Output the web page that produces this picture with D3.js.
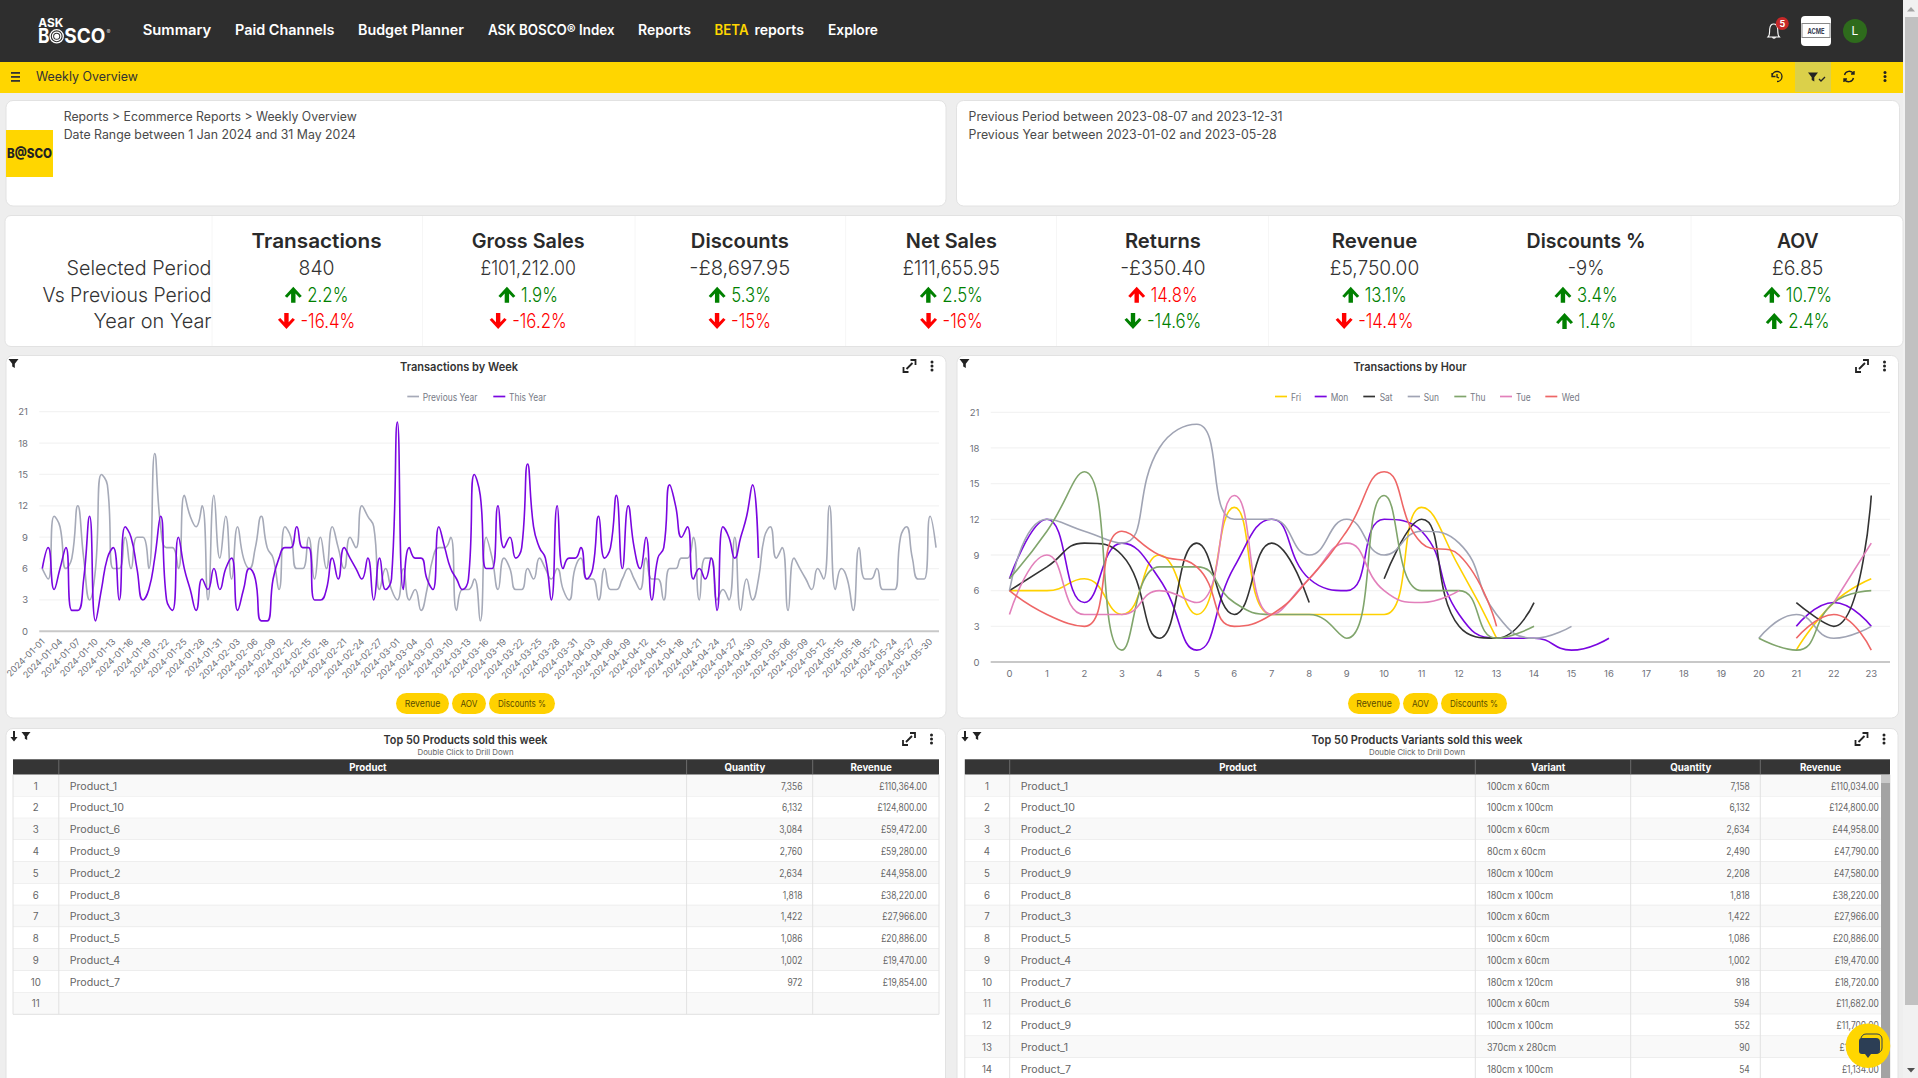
<!DOCTYPE html>
<html><head><meta charset="utf-8">
<script src="https://cdn.jsdelivr.net/npm/d3@7/dist/d3.min.js"></script>
<style>
html,body{margin:0;padding:0;background:#eee;overflow:hidden}
svg{display:block;font-family:Inter,"Open Sans",sans-serif}
</style></head><body><svg id="c" width="1918" height="1078"></svg>
<script>
// ---------- data ----------
const navItems = ["Summary","Paid Channels","Budget Planner","ASK BOSCO® Index","Reports","reports","Explore"];
const kpiNames = ["Transactions","Gross Sales","Discounts","Net Sales","Returns","Revenue","Discounts %","AOV"];
const kpiSelected = ["840","£101,212.00","-£8,697.95","£111,655.95","-£350.40","£5,750.00","-9%","£6.85"];
const kpiVsPrev = [2.2,1.9,5.3,2.5,14.8,13.1,3.4,10.7];
const kpiVsPrevGood = [1,1,1,1,0,1,1,1];
const kpiYoY = [-16.4,-16.2,-15,-16,-14.6,-14.4,1.4,2.4];
const kpiYoYGood = [0,0,0,0,1,0,1,1];
const rowLabels = ["Selected Period","Vs Previous Period","Year on Year"];

const weekTicks = ["2024-01-01","2024-01-04","2024-01-07","2024-01-10","2024-01-13","2024-01-16","2024-01-19","2024-01-22","2024-01-25","2024-01-28","2024-01-31","2024-02-03","2024-02-06","2024-02-09","2024-02-12","2024-02-15","2024-02-18","2024-02-21","2024-02-24","2024-02-27","2024-03-01","2024-03-04","2024-03-07","2024-03-10","2024-03-13","2024-03-16","2024-03-19","2024-03-22","2024-03-25","2024-03-28","2024-03-31","2024-04-03","2024-04-06","2024-04-09","2024-04-12","2024-04-15","2024-04-18","2024-04-21","2024-04-24","2024-04-27","2024-04-30","2024-05-03","2024-05-06","2024-05-09","2024-05-12","2024-05-15","2024-05-18","2024-05-21","2024-05-24","2024-05-27","2024-05-30"];
const thisYear = [6,8,4,6,8,2,2,5,11,1,4,7,8,3,10,9,6,3,4,7,11,3,2,9,6,4,2,5,4,6,4,6,7,2,4,6,5,1,1,5,7,8,8,10,8,8,3,3,4,7,5,8,7,6,5,7,3,7,4,5,20,4,8,7,7,5,4,10,8,6,5,4,5,15,13,6,6,12,8,9,7,8,16,10,8,7,3,12,6,7,7,8,5,6,11,7,8,13,6,12,8,6,9,3,7,8,14,12,9,10,5,6,5,7,2,10,9,7,9,11,14,7];
const previousYear = [6,5,11,10,6,7,12,7,3,6,15,14,6,6,9,6,9,9,6,17,10,8,8,6,13,11,10,12,3,13,7,11,5,10,7,6,8,11,8,7,4,10,9,6,6,9,5,9,6,10,8,6,9,8,12,11,10,4,6,4,3,6,3,4,2,4,7,8,8,9,2,4,4,5,1,9,7,4,7,6,4,4,6,5,7,6,5,6,4,3,6,7,5,5,3,6,4,4,5,6,5,4,7,5,5,3,6,6,7,7,9,3,7,7,3,4,3,9,2,5,3,5,9,10,7,8,2,7,6,5,4,6,5,12,4,6,5,2,8,5,5,6,4,4,4,9,10,7,5,5,11,8];

const hours = ["0","1","2","3","4","5","6","7","8","9","10","11","12","13","14","15","16","17","18","19","20","21","22","23"];
const _ = null;
const fri = [6,6,7,4,9,4,13,4,4,4,4,13,8,2,_,_,_,_,_,_,_,1,5,7];
const mon = [7,12,5,10,7,1,8,12,7,6,12,11,4,2,2,1,2,_,_,_,_,3,5,3];
const sat = [6,8,10,9,2,10,4,10,5,_,7,12,3,2,5,_,_,_,_,_,_,5,3,14];
const sun = [6,12,11,10,18,20,12,12,9,12,9,11,10,4,2,3,_,_,_,_,2,4,2,3];
const thu = [7,11,16,1,8,8,5,4,4,2,14,6,6,2,3,_,_,_,_,_,2,1,5,6];
const tue = [4,9,4,4,6,5,14,4,7,10,6,5,6,_,_,_,_,_,_,_,_,_,5,10];
const wed = [6,4,3,11,9,8,3,4,7,11,16,10,9,3,_,_,_,_,_,_,_,2,4,1];
const buttons = ["Revenue","AOV","Discounts %"];

const prodHead = ["","Product","Quantity","Revenue"];
const products = ["Product_1","Product_10","Product_6","Product_9","Product_2","Product_8","Product_3","Product_5","Product_4","Product_7",""];
const quantities = ["7,356","6,132","3,084","2,760","2,634","1,818","1,422","1,086","1,002","972",""];
const revenues = ["£110,364.00","£124,800.00","£59,472.00","£59,280.00","£44,958.00","£38,220.00","£27,966.00","£20,886.00","£19,470.00","£19,854.00",""];

const varHead = ["","Product","Variant","Quantity","Revenue"];
const varProducts = ["Product_1","Product_10","Product_2","Product_6","Product_9","Product_8","Product_3","Product_5","Product_4","Product_7","Product_6","Product_9","Product_1","Product_7"];
const varVariants = ["100cm x 60cm","100cm x 100cm","100cm x 60cm","80cm x 60cm","180cm x 100cm","180cm x 100cm","100cm x 60cm","100cm x 60cm","100cm x 60cm","180cm x 120cm","100cm x 60cm","100cm x 100cm","370cm x 280cm","180cm x 100cm"];
const varQty = ["7,158","6,132","2,634","2,490","2,208","1,818","1,422","1,086","1,002","918","594","552","90","54"];
const varRev = ["£110,034.00","£124,800.00","£44,958.00","£47,790.00","£47,580.00","£38,220.00","£27,966.00","£20,886.00","£19,470.00","£18,720.00","£11,682.00","£11,700.00","£1,800.00","£1,134.00"];

// ---------- helpers ----------
const svg = d3.select("#c");
const YEL = "#ffd600", DARK = "#2e2e2e";
function T(g,x,y,s,o={}){
  const t=g.append("text").attr("x",x).attr("y",y).attr("dy",".35em").text(s)
    .attr("font-size",o.size||12).attr("fill",o.fill||"#333").attr("font-weight",o.weight||400)
    .attr("text-anchor",o.anchor||"start");
  let w=o.w;
  if(!w&&o.k&&s!==""){w=t.node().getComputedTextLength()*o.k;}
  if(w){t.attr("textLength",w).attr("lengthAdjust","spacingAndGlyphs");}
  return t;
}
function card(x,y,w,h){svg.append("rect").attr("x",x).attr("y",y).attr("width",w).attr("height",h).attr("rx",7).attr("fill","#fff").attr("stroke","#e2e2e2").attr("stroke-width",1);}
function funnel(x,y,s=1,c="#222"){svg.append("path").attr("transform",`translate(${x},${y}) scale(${s})`).attr("d","M-5,-4H5L1.3,0.8V5L-1.3,3.6V0.8Z").attr("fill",c);}
function dots(x,y,c="#222"){[-4,0,4].forEach(d=>svg.append("circle").attr("cx",x).attr("cy",y+d).attr("r",1.5).attr("fill",c));}
function expand(x,y){svg.append("path").attr("transform",`translate(${x},${y})`).attr("d","M-1.5,1.5L3,-3M1,-6H6V-1M-3,3L1.5,-1.5M-6,1V6H-1").attr("fill","none").attr("stroke","#222").attr("stroke-width",1.8);}
function downArrow(x,y){svg.append("path").attr("transform",`translate(${x},${y})`).attr("d","M-1,-5H1V1H3.6L0,5.5L-3.6,1H-1Z").attr("fill","#222");}
function kpiArrow(g,x,y,up,c){g.append("path").attr("transform",`translate(${x},${y}) scale(1,${up?1:-1})`).attr("d","M0,-8L8.5,1.2L6.2,3L2.2,-1.3V8H-2.2V-1.3L-6.2,3L-8.5,1.2Z").attr("fill",c);}

// ECharts-like smooth line generator, usable as a d3 curve
function smoothCurve(ctx){
  let pts=[];const smooth=0.5;
  return{areaStart(){},areaEnd(){},lineStart(){pts=[];},point(x,y){pts.push([x,y]);},
  lineEnd(){
    if(!pts.length)return;
    let [px,py]=pts[0],cx0=px,cy0=py;ctx.moveTo(px,py);
    for(let i=1;i<pts.length;i++){
      const [x,y]=pts[i];let cx1=x,cy1=y,nx0=x,ny0=y;
      if(i<pts.length-1){
        const [nx,ny]=pts[i+1];
        let vx=nx-px,vy=ny-py;
        const lp=Math.hypot(x-px,y-py),ln=Math.hypot(nx-x,ny-y),r=ln/(ln+lp);
        nx0=x+vx*smooth*r;ny0=y+vy*smooth*r;
        nx0=Math.max(Math.min(nx0,Math.max(nx,x)),Math.min(nx,x));
        ny0=Math.max(Math.min(ny0,Math.max(ny,y)),Math.min(ny,y));
        vx=nx0-x;vy=ny0-y;
        cx1=x-vx*lp/ln;cy1=y-vy*lp/ln;
        cx1=Math.max(Math.min(cx1,Math.max(px,x)),Math.min(px,x));
        cy1=Math.max(Math.min(cy1,Math.max(py,y)),Math.min(py,y));
        vx=x-cx1;vy=y-cy1;
        nx0=x+vx*ln/lp;ny0=y+vy*ln/lp;
      }
      ctx.bezierCurveTo(cx0,cy0,cx1,cy1,x,y);
      cx0=nx0;cy0=ny0;px=x;py=y;
    }
  }};
}

// ---------- top bars ----------
svg.append("rect").attr("width",1903).attr("height",62).attr("fill",DARK);
svg.append("rect").attr("y",62).attr("width",1903).attr("height",31).attr("fill",YEL);
const nav=svg.append("g");
// logo
T(nav,38.3,22.8,"ASK",{size:12,weight:700,fill:"#fff",w:25});
T(nav,38,36.3,"B",{size:20,weight:700,fill:"#fff",w:11.5});
[6.6,4.2,1.9].forEach((r,i)=>nav.append("circle").attr("cx",56.7).attr("cy",36.3).attr("r",r).attr("fill",i==2?"#fff":"none").attr("stroke","#fff").attr("stroke-width",1.3));
T(nav,64.3,36.3,"SCO",{size:20,weight:700,fill:"#fff",w:41});
T(nav,106.5,31.5,"®",{size:6,fill:"#ccc"});
const navX=[142.7,235,358,488,638,754.4,828], navW=[68.6,99.5,106,126.5,53,49.5,50];
navItems.forEach((n,i)=>T(nav,navX[i],30.5,n,{size:14,weight:600,fill:"#fff",w:navW[i]}));
T(nav,714.6,30.5,"BETA",{size:14,weight:600,fill:YEL,w:34});
// header icons
nav.append("path").attr("transform","translate(-3,0)").attr("d","M1771,37c2,-2 1.5,-5 1.7,-8c.3,-3 2,-5 4,-5c2,0 3.7,2 4,5c.2,3 -.3,6 1.7,8ZM1775.5,37.5a2,2 0 0 0 3,0").attr("fill","none").attr("stroke","#fff").attr("stroke-width",1.1);
nav.append("circle").attr("cx",1782.3).attr("cy",23.5).attr("r",6.5).attr("fill","#c62828");
T(nav,1782.3,23.5,"5",{size:9,weight:700,fill:"#fff",anchor:"middle"});
nav.append("rect").attr("x",1801).attr("y",16).attr("width",30).attr("height",30).attr("rx",4).attr("fill","#fff");
nav.append("rect").attr("x",1802).attr("y",23.5).attr("width",28).attr("height",14).attr("fill","#fff").attr("stroke","#888").attr("stroke-width",1);
T(nav,1816,31,"ACME",{size:7.5,weight:700,fill:"#3a4256",anchor:"middle",w:17});
nav.append("circle").attr("cx",1855).attr("cy",31).attr("r",12).attr("fill","#2e6b1c");
T(nav,1855,31,"L",{size:12,fill:"#fff",anchor:"middle"});
// yellow bar
[-4,0,4].forEach(d=>svg.append("rect").attr("x",11).attr("y",76+d).attr("width",9).attr("height",1.8).attr("fill","#333"));
T(svg,36,76.5,"Weekly Overview",{size:12.5,fill:"#333",w:102});
svg.append("rect").attr("x",1795).attr("y",62).attr("width",36).attr("height",30).attr("fill","#dbd04a");
svg.append("path").attr("d","M1772,76a5,5 0 1 1 5,5.5M1772,73V76.5H1775.5M1777,74v3l2,1").attr("fill","none").attr("stroke","#222").attr("stroke-width",1.3);
funnel(1813,76.5,1,"#222");
svg.append("path").attr("d","M1819,79l2,2l4,-4").attr("fill","none").attr("stroke","#222").attr("stroke-width",1.3);
svg.append("path").attr("transform","translate(-.5,0)").attr("d","M1845,75a5,5 0 0 1 9,-1.5M1854.5,71v3h-3M1854,78a5,5 0 0 1 -9,1.5M1844.5,82v-3h3").attr("fill","none").attr("stroke","#222").attr("stroke-width",1.4);
dots(1885,76.5);
// page scrollbar
svg.append("rect").attr("x",1903).attr("width",15).attr("height",1078).attr("fill","#f1f1f1");
svg.append("rect").attr("x",1905).attr("y",17).attr("width",13).attr("height",988).attr("fill","#c1c1c1");
svg.append("path").attr("d","M1911,7l4,4.5h-8Z").attr("fill","#a3a3a3");
svg.append("path").attr("d","M1911,1072.5l4,-4.5h-8Z").attr("fill","#505050");

// ---------- info cards ----------
card(6,100.5,940,105.5);card(956.5,100.5,943,105.5);
T(svg,63.7,117,"Reports > Ecommerce Reports > Weekly Overview",{size:12.5,fill:"#4a4a4a",w:293});
T(svg,63.7,135,"Date Range between 1 Jan 2024 and 31 May 2024",{size:12.5,fill:"#4a4a4a",w:292});
svg.append("rect").attr("x",6).attr("y",130).attr("width",47).attr("height",47).attr("fill",YEL);
T(svg,29.5,153.5,"B@SCO",{size:13,weight:800,fill:"#222",anchor:"middle",w:45});
T(svg,968.6,117,"Previous Period between 2023-08-07 and 2023-12-31",{size:12.5,fill:"#4a4a4a",w:314});
T(svg,968.6,135,"Previous Year between 2023-01-02 and 2023-05-28",{size:12.5,fill:"#4a4a4a",w:308});

// ---------- KPI ----------
svg.append("rect").attr("x",5).attr("y",215.5).attr("width",1898).attr("height",131).attr("rx",6).attr("fill","#fff").attr("stroke","#e2e2e2");
const kpi=svg.append("g");
const kx=d3.scalePoint().domain(kpiNames).range([316.6,1797.7]);
[212,422.5,635,845.7,1056.5,1268.5,1691].forEach(x=>kpi.append("line").attr("x1",x).attr("x2",x).attr("y1",216).attr("y2",346).attr("stroke","#f6f6f6"));
const rowW=[145,169,118];
rowLabels.forEach((r,i)=>T(kpi,211.5,[268,294.5,321][i],r,{size:20,weight:300,fill:"#333",anchor:"end",w:rowW[i]}));
const titleW=[130,113,98,91,76,85.5,119,41.6], valW=[36,95.5,101,97,85.5,89.4,36.7,51.4];
kpiNames.forEach((n,i)=>{
  const x=kx(n);
  T(kpi,x,240.7,n,{size:20,weight:600,fill:"#2a2a2a",anchor:"middle",w:titleW[i]});
  T(kpi,x,268.3,kpiSelected[i],{size:20,weight:300,fill:"#333",anchor:"middle",w:valW[i]});
  const row=(y,val,good,up)=>{
    const c=good?"#008000":"#ff0000", s=(Number.isInteger(val)?val:val.toFixed(1))+"%";
    const t=T(kpi,0,y,s,{size:20,weight:300,fill:c,k:.84});
    const w=+t.attr("textLength");
    const tot=17+5.5+w, x0=x-tot/2;
    kpiArrow(kpi,x0+8.5,y,up,c);
    t.attr("x",x0+22.5);
  };
  row(294.7,kpiVsPrev[i],kpiVsPrevGood[i],true);
  row(321,kpiYoY[i],kpiYoYGood[i],kpiYoY[i]>0);
});

// ---------- charts ----------
const axisC="#6e7079", gridC="#f3f3f3", baseC="#c8c8c8";
const btnTextW=[35.7,17,48];
function chartFrame(x0,x1,title,titleCx,titleW,btnX,btnW){
  card(x0,355.5,x1-x0,362.5);
  funnel(x0+7.5,363,1);
  T(svg,titleCx,367,title,{size:11.5,weight:600,fill:"#333",anchor:"middle",w:titleW});
  expand(x1-36.5,366);dots(x1-14,366);
  buttons.forEach((b,i)=>{
    svg.append("rect").attr("x",btnX[i]).attr("y",693).attr("width",btnW[i]).attr("height",21).attr("rx",10.5).attr("fill","#ffd100");
    T(svg,btnX[i]+btnW[i]/2,703.7,b,{size:9.3,fill:"#5a4c00",anchor:"middle",w:btnTextW[i]});
  });
}
function yAxis(y,xL,xR,labelX){
  const g=svg.append("g").attr("transform",`translate(${labelX},0)`).call(d3.axisLeft(y).tickValues([0,3,6,9,12,15,18,21]).tickSize(0).tickPadding(0));
  g.select(".domain").remove();
  g.selectAll("text").attr("font-size",9.5).attr("fill",axisC).attr("font-family","Inter");
  [3,6,9,12,15,18,21].forEach(v=>svg.append("line").attr("x1",xL).attr("x2",xR).attr("y1",y(v)).attr("y2",y(v)).attr("stroke",gridC).attr("stroke-width",1.3));
}
function xBase(y,xL,xR){svg.append("line").attr("x1",xL).attr("x2",xR).attr("y1",y(0)).attr("y2",y(0)).attr("stroke",baseC).attr("stroke-width",2);}
function drawLine(x,y,values,color,categories){
  const line=d3.line().defined(d=>d.v!=null).x(d=>x(d.c)+x.bandwidth()/2).y(d=>y(d.v)).curve(smoothCurve);
  svg.append("path").datum(values.map((v,i)=>({c:categories[i],v}))).attr("d",line).attr("fill","none").attr("stroke",color).attr("stroke-width",1.6).attr("stroke-linejoin","round");
}
function legendItem(x1,x2,tx,label,color){
  svg.append("line").attr("x1",x1).attr("x2",x2).attr("y1",396.5).attr("y2",396.5).attr("stroke",color).attr("stroke-width",1.7);
  T(svg,tx,398,label,{size:9.7,fill:"#777a86",k:.87});
}

// chart 1
chartFrame(6,946,"Transactions by Week",459,118,[396,452,489],[53,34,66]);
const weekCats=d3.utcDays(new Date(Date.UTC(2024,0,1)),new Date(Date.UTC(2024,5,1))).map(d3.utcFormat("%Y-%m-%d"));
const x1=d3.scaleBand().domain(weekCats).range([39.3,939]);
const y1=d3.scaleLinear().domain([0,21]).range([631.3,411.7]);
yAxis(y1,39.3,939,28);
xBase(y1,39.3,939);
const ax1=svg.append("g").attr("transform",`translate(0,${y1(0)})`).call(d3.axisBottom(x1).tickValues(weekTicks).tickSize(0));
ax1.select(".domain").remove();
ax1.selectAll("text").attr("font-size",9).attr("fill",axisC).attr("font-family","Inter").attr("text-anchor","end").attr("dy",0).attr("y",0).attr("transform","translate(3,11) rotate(-45)");
drawLine(x1,y1,previousYear,"#a6aab8",weekCats);
drawLine(x1,y1,thisYear,"#7a06e0",weekCats);
legendItem(407.3,419,422.7,"Previous Year","#a6aab8");
legendItem(493.3,505.3,509,"This Year","#7a06e0");

// chart 2
chartFrame(957,1898.5,"Transactions by Hour",1410,113,[1348,1403,1441],[52,35,66]);
const x2=d3.scaleBand().domain(hours).range([990.7,1890]);
const y2=d3.scaleLinear().domain([0,21]).range([662,412.3]);
yAxis(y2,990.7,1890,979.5);
xBase(y2,990.7,1890);
const ax2=svg.append("g").attr("transform",`translate(0,${y2(0)})`).call(d3.axisBottom(x2).tickSize(0).tickPadding(8));
ax2.select(".domain").remove();
ax2.selectAll("text").attr("font-size",9.5).attr("fill",axisC).attr("font-family","Inter");
const hourSeries=[["Fri",fri,"#ffd100",1275,1287,1291],["Mon",mon,"#7a06e0",1314.7,1326.7,1330.7],["Sat",sat,"#333333",1363.3,1375,1379.7],["Sun",sun,"#a0a4b4",1407.7,1420,1423.7],["Thu",thu,"#80a56c",1454.3,1466.3,1470],["Tue",tue,"#e280bb",1500,1512,1516],["Wed",wed,"#ee6666",1545.3,1557.3,1561.7]];
hourSeries.forEach(s=>{drawLine(x2,y2,s[1],s[2],hours);legendItem(s[3],s[4],s[5],s[0],s[2]);});

// ---------- tables ----------
function table(cfg){
  card(cfg.x0,728.5,cfg.x1-cfg.x0,360);
  downArrow(cfg.x0+8,736);funnel(cfg.x0+20,735.5,0.9);
  T(svg,cfg.cx,740.3,cfg.title,{size:11.5,weight:600,fill:"#333",anchor:"middle",w:cfg.titleW});
  T(svg,cfg.cx,752.3,"Double Click to Drill Down",{size:7.8,fill:"#666",anchor:"middle",w:96});
  expand(cfg.x1-36.5,739);dots(cfg.x1-14,739);
  const e=cfg.edges, hy=759.3, hh=15.4, rh=21.78;
  svg.append("rect").attr("x",e[0]).attr("y",hy).attr("width",e[e.length-1]-e[0]).attr("height",hh).attr("fill","#353535");
  cfg.head.forEach((h,i)=>{ T(svg,(e[i]+e[i+1])/2-4.7,hy+hh/2+.2,h,{size:9.7,weight:700,fill:"#fff",anchor:"middle"}); });
  const n=cfg.rows.length;
  const ys=d3.scaleLinear().domain([0,1]).range([hy+hh,hy+hh+rh]);
  d3.range(n).forEach(r=>{
    const ry=ys(r);
    svg.append("rect").attr("x",e[0]).attr("y",ry).attr("width",e[e.length-1]-e[0]).attr("height",rh).attr("fill",r%2?"#fff":"#f9f9f9");
    svg.append("line").attr("x1",e[0]).attr("x2",e[e.length-1]).attr("y1",ry+rh).attr("y2",ry+rh).attr("stroke","#e6e6e6").attr("stroke-width",1.2);
    T(svg,cfg.idxX,ry+rh/2+.7,r+1,{size:9.7,fill:"#666",anchor:"middle"});
    cfg.rows[r].forEach((v,c)=>{const col=cfg.cols[c];T(svg,col.x,ry+rh/2+.7,v,{size:9.7,fill:"#666",anchor:col.a,k:col.k});});
  });
  const bot=Math.min(ys(n),1078);
  e.forEach(x=>svg.append("line").attr("x1",x).attr("x2",x).attr("y1",hy+hh).attr("y2",bot).attr("stroke","#e2e2e2").attr("stroke-width",1));
  e.slice(1,-1).forEach(x=>svg.append("line").attr("x1",x).attr("x2",x).attr("y1",hy).attr("y2",hy+hh).attr("stroke","#777").attr("stroke-width",.8));
}
table({x0:6,x1:945.5,cx:465.5,title:"Top 50 Products sold this week",titleW:164,head:prodHead,edges:[13,58.8,686.6,812.7,939],idxX:35.8,
  cols:[{x:69.7,a:"start",k:1.1},{x:802.4,a:"end",k:.87},{x:927,a:"end",k:.87}],
  rows:products.map((p,i)=>[p,quantities[i],revenues[i]])});
table({x0:957,x1:1898,cx:1417,title:"Top 50 Products Variants sold this week",titleW:211,head:varHead,edges:[964.8,1009.7,1475.3,1630.7,1760.3,1890],idxX:987,
  cols:[{x:1020.7,a:"start",k:1.1},{x:1487,a:"start",k:.93},{x:1749.8,a:"end",k:.87},{x:1878.8,a:"end",k:.87}],
  rows:varProducts.map((p,i)=>[p,varVariants[i],varQty[i],varRev[i]])});
// inner scrollbar
svg.append("rect").attr("x",1881).attr("y",775).attr("width",9).attr("height",303).attr("fill","#a3a3a3");
svg.append("rect").attr("x",1881).attr("y",775).attr("width",9).attr("height",8).attr("fill","#c9c9c9");
// chat bubble
svg.append("circle").attr("cx",1868).attr("cy",1045.7).attr("r",22.3).attr("fill","#ffd600");
svg.append("rect").attr("x",1861).attr("y",1034).attr("width",21).attr("height",19).attr("rx",5).attr("fill","none").attr("stroke","#2c3e55").attr("stroke-width",1);
svg.append("path").attr("d","M1862,1038h14a4,4 0 0 1 4,4v8a4,4 0 0 1 -4,4h-5l-3,4l-3,-4h-3a3,3 0 0 1 -3,-3v-10a3,3 0 0 1 3,-3Z").attr("fill","#2c3e55");
</script></body></html>
